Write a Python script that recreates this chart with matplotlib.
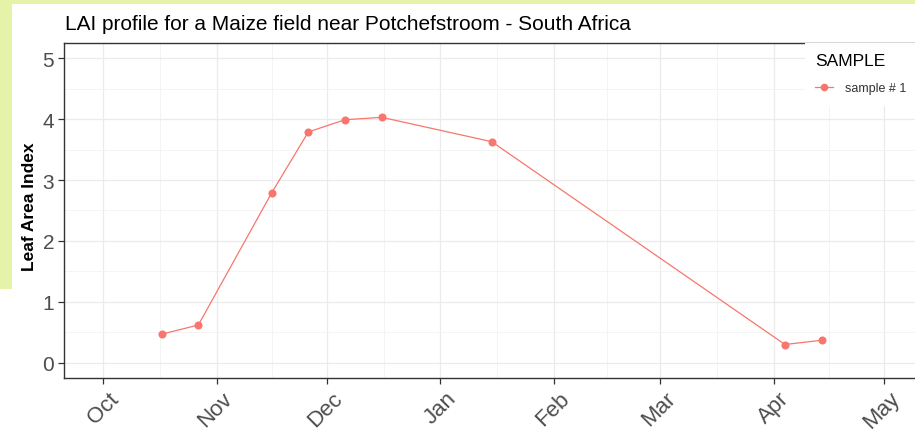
import matplotlib
matplotlib.use("Agg")
import matplotlib.pyplot as plt
import matplotlib.dates as mdates
import matplotlib.transforms as mtransforms
from matplotlib.patches import Rectangle
from matplotlib.lines import Line2D
import numpy as np
import pandas as pd

plt.rcParams['font.family'] = ['Liberation Sans', 'DejaVu Sans']

# LAI observations for sample #1
dates = ["2015-10-17", "2015-10-27", "2015-11-16", "2015-11-26", "2015-12-06",
         "2015-12-16", "2016-01-15", "2016-04-04", "2016-04-14"]
lai = [0.47, 0.62, 2.79, 3.79, 3.99, 4.03, 3.63, 0.30, 0.37]
series_name = "sample # 1"
month_breaks = ["2015-10-01", "2015-11-01", "2015-12-01", "2016-01-01", "2016-02-01",
                "2016-03-01", "2016-04-01", "2016-05-01"]
month_labels = ["Oct", "Nov", "Dec", "Jan", "Feb", "Mar", "Apr", "May"]
y_breaks = [0, 1, 2, 3, 4, 5]

W, H = 915, 431
fig = plt.figure(figsize=(W / 100, H / 100), dpi=100)
fig.patch.set_facecolor('white')

# page background strip
bg = '#e5f3a8'
fig.patches.append(Rectangle((0, 1 - 5 / H), 1, 5 / H, transform=fig.transFigure,
                             facecolor=bg, edgecolor='none', zorder=-9))
fig.patches.append(Rectangle((0, 1 - 290 / H), 12 / W, 290 / H, transform=fig.transFigure,
                             facecolor=bg, edgecolor='none', zorder=-9))

left, right, top, bottom = 64, 923, 44, 379
ax = fig.add_axes([left / W, 1 - bottom / H, (right - left) / W, (bottom - top) / H])
ax.set_facecolor('none')

x = mdates.date2num(pd.to_datetime(dates))
mb = mdates.date2num(pd.to_datetime(month_breaks))
span = mb[-1] - mb[0]
ax.set_xlim(mb[0] - 0.05 * span, mb[-1] + 0.05 * span)
ax.set_ylim(-0.25, 5.25)

ax.set_xticks(mb)
ax.set_xticklabels(month_labels)
ax.set_xticks((mb[:-1] + mb[1:]) / 2, minor=True)
ax.set_yticks(y_breaks)
ax.set_yticklabels([str(v) for v in y_breaks])
ax.set_yticks(np.array(y_breaks[:-1]) + 0.5, minor=True)

ax.grid(True, which='major', color='#ebebeb', linewidth=0.9, zorder=0)
ax.grid(True, which='minor', color='#f2f2f2', linewidth=0.6, zorder=0)
ax.set_axisbelow(True)

for s in ax.spines.values():
    s.set_color('#333333')
    s.set_linewidth(1.0)

ax.tick_params(axis='both', which='major', length=4, width=0.9, color='#333333',
               labelcolor='#4d4d4d', labelsize=15)
ax.tick_params(axis='x', labelsize=16, pad=3)
ax.tick_params(axis='both', which='minor', length=0)
ax.tick_params(axis='y', pad=3)
shift = mtransforms.ScaledTranslation(5 / 100, 0, fig.dpi_scale_trans)
for lab in ax.get_xticklabels():
    lab.set_rotation(45)
    lab.set_ha('right')
    lab.set_va('top')
    lab.set_rotation_mode('anchor')
    lab.set_transform(lab.get_transform() + shift)

ax.plot(x, lai, color='#F8766D', linewidth=0.9, marker='o', markersize=5.8,
        markeredgewidth=0, zorder=3, clip_on=False)

fig.text(65 / W, 1 - 24 / H, "LAI profile for a Maize field near Potchefstroom - South Africa",
         fontsize=15, color='black', va='center', ha='left')
fig.text(29 / W, 1 - 207 / H, "Leaf Area Index", rotation=90, fontsize=12.5,
         fontweight='bold', color='black', va='center', ha='center')

# legend panel
fig.patches.append(Rectangle((805 / W, 1 - 107 / H), (W - 805) / W, (107 - 44) / H + 0.001,
                             transform=fig.transFigure, facecolor='white',
                             edgecolor='none', zorder=4))
fig.text(815 / W, 1 - 62 / H, "SAMPLE", fontsize=12.5, color='black',
         va='center', ha='left', zorder=6)
handle = Line2D([], [], color='#F8766D', linewidth=0.9, marker='o', markersize=5.5,
                markeredgewidth=0)
leg = fig.legend([handle], [series_name], loc='center left',
                 bbox_to_anchor=(815 / W, 1 - 89 / H), frameon=False, fontsize=9,
                 handlelength=1.4, handletextpad=1.0, borderpad=0.0,
                 borderaxespad=0.0)
leg.set_zorder(5)
for t in leg.get_texts():
    t.set_color('#333333')

fig.savefig("out.png", dpi=100)
